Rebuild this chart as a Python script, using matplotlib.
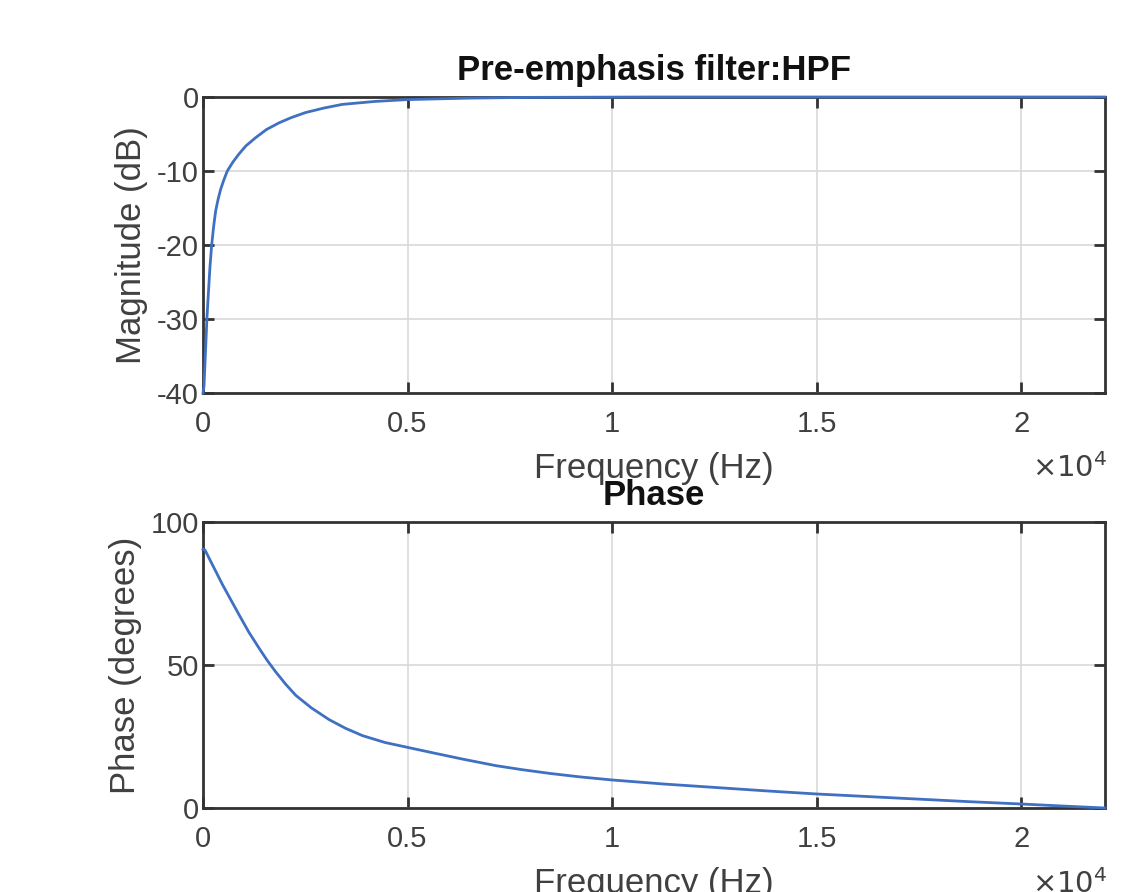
import matplotlib
matplotlib.use("Agg")
import matplotlib.pyplot as plt
from matplotlib.ticker import FixedLocator, FuncFormatter

# ---- data ----
mag_freq = [0, 10, 24, 40, 65, 95, 130, 170, 212, 260, 309, 370, 430, 510,
            594, 730, 879, 1050, 1286, 1550, 1856, 2150, 2507, 2950, 3402,
            4200, 5000, 6500, 8000, 11000, 15000, 22050]
mag_db = [-40.0, -39.6, -39.1, -37.0, -33.9, -30.0, -26.7, -23.0, -20.0,
          -17.5, -15.4, -13.8, -12.5, -11.2, -10.0, -8.8, -7.7, -6.6, -5.5,
          -4.4, -3.5, -2.8, -2.1, -1.5, -1.0, -0.6, -0.35, -0.15, -0.05,
          0.0, 0.0, 0.0]

phase_freq = [0, 49, 250, 473, 680, 880, 1120, 1370, 1570, 1778, 2020, 2267,
              2650, 3083, 3480, 3899, 4450, 5000, 5650, 6346, 7162, 7800,
              8472, 9200, 10000, 11250, 12500, 13750, 15000, 16250, 17500,
              18750, 20000, 21000, 22050]
phase_deg = [90.5, 90.2, 84.5, 78.2, 72.8, 67.6, 61.5, 55.9, 51.6, 47.6,
             43.3, 39.4, 35.0, 30.9, 27.9, 25.3, 22.9, 21.2, 19.2, 17.1,
             14.8, 13.4, 12.1, 10.9, 9.8, 8.4, 7.2, 6.0, 4.9, 4.0, 3.1, 2.2,
             1.4, 0.7, 0.0]

x_ticks = [0, 5000, 10000, 15000, 20000]
mag_ticks = [-40, -30, -20, -10, 0]
phase_ticks = [0, 50, 100]
x_max = 22050

title_top = "Pre-emphasis filter:HPF"
title_bottom = "Phase"
xlabel = "Frequency (Hz)"
ylabel_top = "Magnitude (dB)"
ylabel_bottom = "Phase (degrees)"

# ---- styling ----
plt.rcParams['font.family'] = ['Liberation Sans', 'DejaVu Sans']
plt.rcParams['axes.unicode_minus'] = False
line_color = '#3f70c2'
axis_color = '#333333'
text_color = '#404040'
W, H = 1145, 892
fig = plt.figure(figsize=(W / 100, H / 100), dpi=100)

ax1 = fig.add_axes([203 / W, 1 - 393 / H, 902 / W, 296 / H])
ax2 = fig.add_axes([203 / W, 1 - 808 / H, 902 / W, 286 / H])


def style(ax, yticks, ylim, exp_y):
    ax.set_xlim(0, x_max)
    ax.set_ylim(*ylim)
    ax.xaxis.set_major_locator(FixedLocator(x_ticks))
    ax.xaxis.set_major_formatter(FuncFormatter(lambda v, p: ('%g' % (v / 1e4))))
    ax.yaxis.set_major_locator(FixedLocator(yticks))
    ax.grid(True, color='#d9d9d9', linewidth=1.2)
    ax.set_axisbelow(True)
    for s in ax.spines.values():
        s.set_color(axis_color)
        s.set_linewidth(2.0)
    ax.tick_params(direction='in', length=8, width=2.0, colors=axis_color,
                   labelcolor=text_color, labelsize=21, top=True, right=True)
    ax.tick_params(axis='x', pad=12)
    ax.tick_params(axis='y', pad=3)
    ax.set_xlabel(xlabel, fontsize=25, color=text_color, labelpad=10)
    ax.text(1.003, exp_y, r'$\times10^{4}$', transform=ax.transAxes,
            ha='right', va='center', fontsize=21, color=text_color)


ax1.plot(mag_freq, mag_db, color=line_color, linewidth=2.0, clip_on=False,
         zorder=5)
style(ax1, mag_ticks, (-40, 0), -0.255)
ax1.set_ylabel(ylabel_top, fontsize=25, color=text_color, labelpad=6)
ax1.set_title(title_top, fontsize=25, fontweight='bold', color='#111111',
              pad=12)

ax2.plot(phase_freq, phase_deg, color=line_color, linewidth=2.0,
         clip_on=False, zorder=5)
style(ax2, phase_ticks, (0, 100), -0.265)
ax2.set_ylabel(ylabel_bottom, fontsize=25, color=text_color, labelpad=6)
ax2.set_title(title_bottom, fontsize=25, fontweight='bold', color='#111111',
              pad=12, zorder=10)

fig.savefig("out.png", dpi=100, facecolor='white')
